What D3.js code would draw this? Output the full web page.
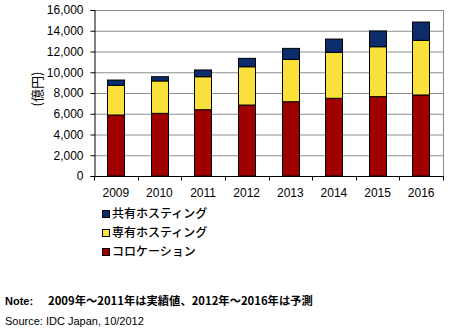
<!DOCTYPE html>
<html><head><meta charset="utf-8">
<script src="https://cdn.jsdelivr.net/npm/d3@7"></script>
<style>body{margin:0;background:#fff;} svg{display:block;}</style>
</head><body>
<script>
const categories = ["2009","2010","2011","2012","2013","2014","2015","2016"];
const colocation = [5880, 6040, 6390, 6840, 7160, 7490, 7650, 7810];
const dedicated  = [2860, 3120, 3180, 3690, 4080, 4430, 4810, 5270];
const shared     = [510, 410, 650, 810, 1060, 1280, 1520, 1760];
const yTicks = [0,2000,4000,6000,8000,10000,12000,14000,16000];
const seriesNames = ["コロケーション","専有ホスティング","共有ホスティング"];
const colors = ["#A00000","#F9E03A","#0D2C6C"];

const W=450,H=334;
const svg=d3.select("body").append("svg").attr("width",W).attr("height",H);
const m={l:94,r:443,t:10,b:176};
const x=d3.scaleBand().domain(categories).range([m.l,m.r]).paddingInner(0.6).paddingOuter(0.3);
const xb=d3.scaleBand().domain(categories).range([m.l,m.r]);
const y=d3.scaleLinear().domain([0,16000]).range([m.b,m.t]);

// gridlines
svg.append("g").selectAll("line").data(yTicks.slice(1)).join("line")
  .attr("x1",m.l).attr("x2",m.r).attr("y1",d=>y(d)+0.5).attr("y2",d=>y(d)+0.5)
  .attr("stroke","#8c8c8c").attr("stroke-width",1);
// right border
svg.append("line").attr("x1",m.r+0.5).attr("x2",m.r+0.5).attr("y1",m.t).attr("y2",m.b).attr("stroke","#8c8c8c");

const table=categories.map((c,i)=>({cat:c,colo:colocation[i],ded:dedicated[i],sh:shared[i]}));
const stack=d3.stack().keys(["colo","ded","sh"])(table);
svg.append("g").selectAll("g").data(stack).join("g").attr("fill",(d,i)=>colors[i])
  .selectAll("rect").data(d=>d).join("rect")
  .attr("x",d=>Math.round(x(d.data.cat))+0.5).attr("width",Math.round(x.bandwidth()))
  .attr("y",d=>y(d[1])).attr("height",d=>y(d[0])-y(d[1]))
  .attr("stroke","#000").attr("stroke-width",1);

// y axis
const ya=svg.append("g").attr("transform",`translate(${m.l+0.5},0)`)
  .call(d3.axisLeft(y).tickValues(yTicks).tickFormat(d3.format(",")).tickSizeOuter(0).tickSize(4));
ya.select(".domain").attr("stroke","#000");
ya.selectAll("text").attr("font-family","Liberation Sans, Arial, sans-serif").attr("font-size",12).attr("fill","#000").attr("x",-11);
// x axis
const xa=svg.append("g").attr("transform",`translate(0,${m.b+0.5})`);
xa.append("line").attr("x1",m.l).attr("x2",m.r+1).attr("stroke","#000");
xa.selectAll(".tk").data(d3.range(categories.length+1)).join("line").attr("class","tk")
  .attr("x1",i=>Math.round(m.l+i*xb.step())+0.5).attr("x2",i=>Math.round(m.l+i*xb.step())+0.5)
  .attr("y1",0).attr("y2",4).attr("stroke","#000");
xa.selectAll("text").data(categories).join("text")
  .attr("x",d=>xb(d)+xb.bandwidth()/2).attr("y",20).attr("text-anchor","middle")
  .attr("font-family","Liberation Sans, Arial, sans-serif").attr("font-size",12).text(d=>d);

svg.append("text").attr("transform","translate(37,89) rotate(-90)").attr("text-anchor","middle")
  .attr("dy","0.36em").attr("font-family","Noto Sans CJK JP, sans-serif").attr("font-size",13).text("(億円)");

// legend
const leg=[{n:seriesNames[2],c:colors[2]},{n:seriesNames[1],c:colors[1]},{n:seriesNames[0],c:colors[0]}];
const lg=svg.append("g").selectAll("g").data(leg).join("g")
  .attr("transform",(d,i)=>`translate(102,${214+i*19})`);
lg.append("rect").attr("x",0.5).attr("y",-3.5).attr("width",7).attr("height",7).attr("fill",d=>d.c).attr("stroke","#000");
lg.append("text").attr("x",10).attr("y",0).attr("dy","0.36em")
  .attr("font-family","Noto Sans CJK JP, sans-serif").attr("font-size",12).attr("font-weight",500).text(d=>d.n);

svg.append("text").attr("x",5).attr("y",305).attr("font-family","Liberation Sans, Arial, sans-serif").attr("font-weight","bold").attr("font-size",11).text("Note:");
svg.append("text").attr("x",48).attr("y",305).attr("font-family","Noto Sans CJK JP, sans-serif").attr("font-weight","bold").attr("font-size",11.3).text("2009年～2011年は実績値、2012年～2016年は予測");
svg.append("text").attr("x",5).attr("y",325).attr("font-family","Liberation Sans, Arial, sans-serif").attr("font-size",11).text("Source: IDC Japan, 10/2012");
</script>
</body></html>
